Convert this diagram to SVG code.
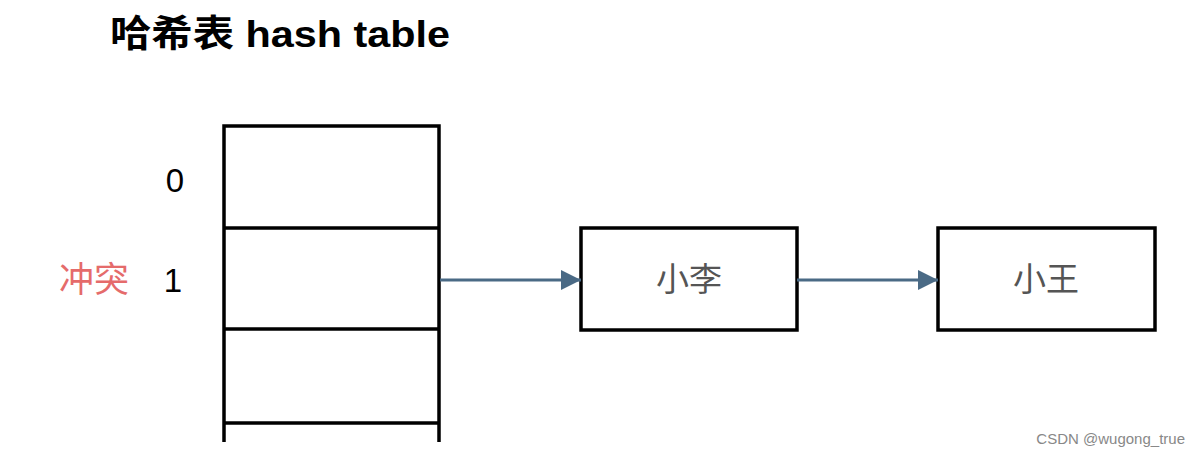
<svg xmlns="http://www.w3.org/2000/svg" width="1201" height="456" viewBox="0 0 1201 456">
<style>
.box{fill:#fff;stroke:#000;stroke-width:3.5}
.ln{stroke:#000;stroke-width:3.5}
.t{font-family:"Liberation Sans","Noto Sans CJK SC",sans-serif}
.conn{stroke:#4a6a85;stroke-width:3;fill:none}
</style>
<defs><marker id="a2" viewBox="0 0 10 10" refX="10" refY="5" markerWidth="20" markerHeight="20" markerUnits="userSpaceOnUse" orient="auto"><path d="M0,0 L10,5 L0,10 Z" fill="#4a6a85"/></marker></defs>
<rect width="1201" height="456" fill="#fff"/>
<text class="t" x="110" y="47" font-size="37" font-weight="bold" textLength="340" lengthAdjust="spacingAndGlyphs">哈希表 hash table</text>
<g id="table">
<path class="ln" d="M224,442 V126 H439 V442" fill="none"/>
<line class="ln" x1="224" y1="228" x2="439" y2="228"/>
<line class="ln" x1="224" y1="329" x2="439" y2="329"/>
<line class="ln" x1="224" y1="423" x2="439" y2="423"/>
</g>
<text class="t" x="175" y="192" font-size="33" text-anchor="middle">0</text>
<text class="t" x="173" y="292" font-size="33" text-anchor="middle">1</text>
<text class="t" x="94" y="292" font-size="35" text-anchor="middle" fill="#e56b6b">冲突</text>
<g id="n1"><rect class="box" x="581" y="228" width="216" height="102"/><text class="t" x="689" y="291" font-size="33" text-anchor="middle" fill="#555">小李</text></g>
<g id="n2"><rect class="box" x="938" y="228" width="217" height="102"/><text class="t" x="1046" y="291" font-size="33" text-anchor="middle" fill="#555">小王</text></g>
<g id="connectors">
<line class="conn" x1="440" y1="280" x2="581" y2="280" marker-end="url(#a2)"/>
<line class="conn" x1="797" y1="280" x2="938" y2="280" marker-end="url(#a2)"/>
</g>
<text class="t" x="1185" y="444" font-size="15" text-anchor="end" fill="#888">CSDN @wugong_true</text>
</svg>
